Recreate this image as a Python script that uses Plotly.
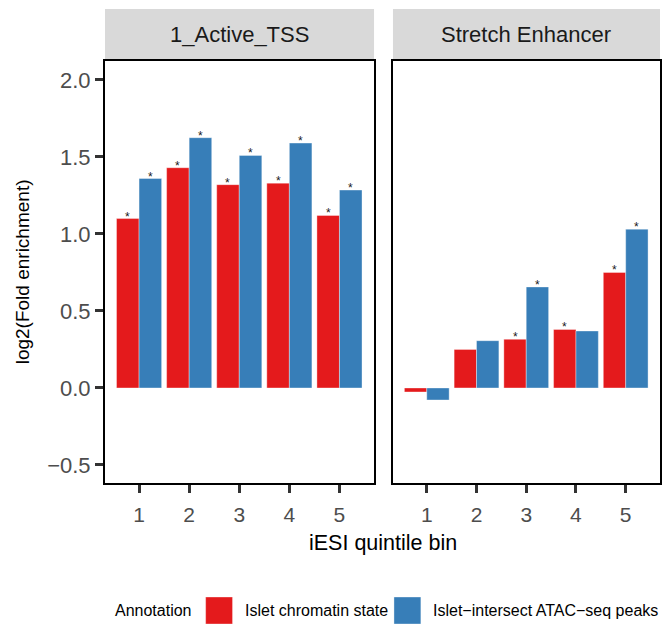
import plotly.graph_objects as go

# Enrichment of iESI quintile bins, per annotation
panels = ["1_Active_TSS", "Stretch Enhancer"]
bins = [1, 2, 3, 4, 5]
bin_labels = ["1", "2", "3", "4", "5"]
series_names = ["Islet chromatin state", "Islet\u2212intersect ATAC\u2212seq peaks"]
series_colors = ["#E41A1C", "#377EB8"]

tss_chromatin = [1.10, 1.43, 1.32, 1.33, 1.12]
tss_atac = [1.36, 1.625, 1.51, 1.59, 1.285]
se_chromatin = [-0.026, 0.25, 0.316, 0.38, 0.75]
se_atac = [-0.078, 0.307, 0.656, 0.37, 1.031]

# significance flags
tss_chromatin_sig = ["*", "*", "*", "*", "*"]
tss_atac_sig = ["*", "*", "*", "*", "*"]
se_chromatin_sig = ["", "", "*", "*", "*"]
se_atac_sig = ["", "", "*", "", "*"]

y_tick_vals = [-0.5, 0.0, 0.5, 1.0, 1.5, 2.0]
y_tick_text = ["\u22120.5", "0.0", "0.5", "1.0", "1.5", "2.0"]

FONT = "Liberation Sans, Arial, Helvetica, sans-serif"
W, H = 663, 627
L, R, T, B = 105, 1, 61, 144
PW, PH = W - L - R, H - T - B

BARGAP = 0.1
N_SERIES = 2
BAR_W = (1 - BARGAP) / N_SERIES


def px_x(px):
    return (px - L) / PW


def px_y(py):
    return (H - B - py) / PH


fig = go.Figure()

panel_data = [
    (tss_chromatin, tss_atac, tss_chromatin_sig, tss_atac_sig, "x", "y"),
    (se_chromatin, se_atac, se_chromatin_sig, se_atac_sig, "x2", "y2"),
]
for vals_a, vals_b, sig_a, sig_b, xa, ya in panel_data:
    series = [(vals_a, sig_a), (vals_b, sig_b)]
    for i, ((vals, sig), name, color) in enumerate(zip(series, series_names, series_colors)):
        fig.add_trace(go.Bar(
            x=bins, y=vals, name=name,
            marker=dict(color=color, line=dict(color="rgba(255,255,255,0.45)", width=0.8)),
            xaxis=xa, yaxis=ya, showlegend=False,
        ))
        # significance stars just above each flagged bar
        offset = (i - (N_SERIES - 1) / 2) * BAR_W
        for b, v, s in zip(bins, vals, sig):
            if s:
                fig.add_annotation(
                    xref=xa, yref=ya, x=b + offset, y=max(v, 0), text=s,
                    showarrow=False, xanchor="center", yanchor="bottom", yshift=-7,
                    font=dict(size=12, color="#1A1A1A", family=FONT),
                )

x_range = [0.32, 5.69]
y_range = [-0.617, 2.123]
split = (394 - L) / PW

axis_common = dict(
    range=x_range, showgrid=False, zeroline=False,
    showline=True, linecolor="black", linewidth=2, mirror=True,
    ticks="outside", ticklen=8, tickwidth=2.5, tickcolor="#333333",
    tickvals=bins, ticktext=bin_labels, ticklabelstandoff=4,
    tickfont=dict(size=21, color="#4D4D4D", family=FONT),
)
fig.update_layout(
    xaxis=dict(domain=[0, (375 - L) / PW], **axis_common),
    xaxis2=dict(domain=[split, 1], anchor="y2", **axis_common),
    yaxis=dict(
        domain=[0, 1], range=y_range, showgrid=False, zeroline=False,
        showline=True, linecolor="black", linewidth=2, mirror=True,
        ticks="outside", ticklen=8, tickwidth=2.5, tickcolor="#333333",
        tickvals=y_tick_vals, ticktext=y_tick_text,
        tickfont=dict(size=22, color="#4D4D4D", family=FONT),
    ),
    yaxis2=dict(
        domain=[0, 1], range=y_range, anchor="x2", matches="y",
        showgrid=False, zeroline=False, showticklabels=False, ticks="",
        showline=True, linecolor="black", linewidth=2, mirror=True,
    ),
    barmode="group", bargap=BARGAP, bargroupgap=0,
    width=W, height=H,
    margin=dict(l=L, r=R, t=T, b=B, pad=0),
    plot_bgcolor="white", paper_bgcolor="white",
    font=dict(family=FONT, color="black"),
    showlegend=False,
)

# facet strips
for xref, label in [("x domain", panels[0]), ("x2 domain", panels[1])]:
    fig.add_shape(type="rect", xref=xref, yref="paper", x0=0, x1=1,
                  y0=1, y1=px_y(9), fillcolor="#D9D9D9", line=dict(width=0), layer="below")
    fig.add_annotation(xref=xref, yref="paper", x=0.5, y=px_y(35), text=label,
                       showarrow=False, xanchor="center", yanchor="middle",
                       font=dict(size=22, color="#1A1A1A", family=FONT))

# axis titles
fig.add_annotation(xref="paper", yref="paper", x=0.5, y=px_y(543), text="iESI quintile bin",
                   showarrow=False, xanchor="center", yanchor="middle",
                   font=dict(size=21.5, color="black", family=FONT))
fig.add_annotation(xref="paper", yref="paper", x=px_x(22), y=0.5, text="log2(Fold enrichment)",
                   textangle=-90, showarrow=False, xanchor="center", yanchor="middle",
                   font=dict(size=19, color="black", family=FONT))

# legend
legend_font = dict(size=16, color="black", family=FONT)
fig.add_annotation(xref="paper", yref="paper", x=px_x(113), y=px_y(610), text="Annotation",
                   showarrow=False, xanchor="left", yanchor="middle", font=legend_font)
for (k0, k1, tx), name, color in zip([(206, 233, 243), (395, 422, 432)], series_names, series_colors):
    fig.add_shape(type="rect", xref="paper", yref="paper",
                  x0=px_x(k0), x1=px_x(k1), y0=px_y(624), y1=px_y(597),
                  fillcolor=color, line=dict(color="rgba(255,255,255,0.45)", width=0.8))
    fig.add_annotation(xref="paper", yref="paper", x=px_x(tx), y=px_y(610), text=name,
                       showarrow=False, xanchor="left", yanchor="middle", font=legend_font)

fig.write_html("out.html")
